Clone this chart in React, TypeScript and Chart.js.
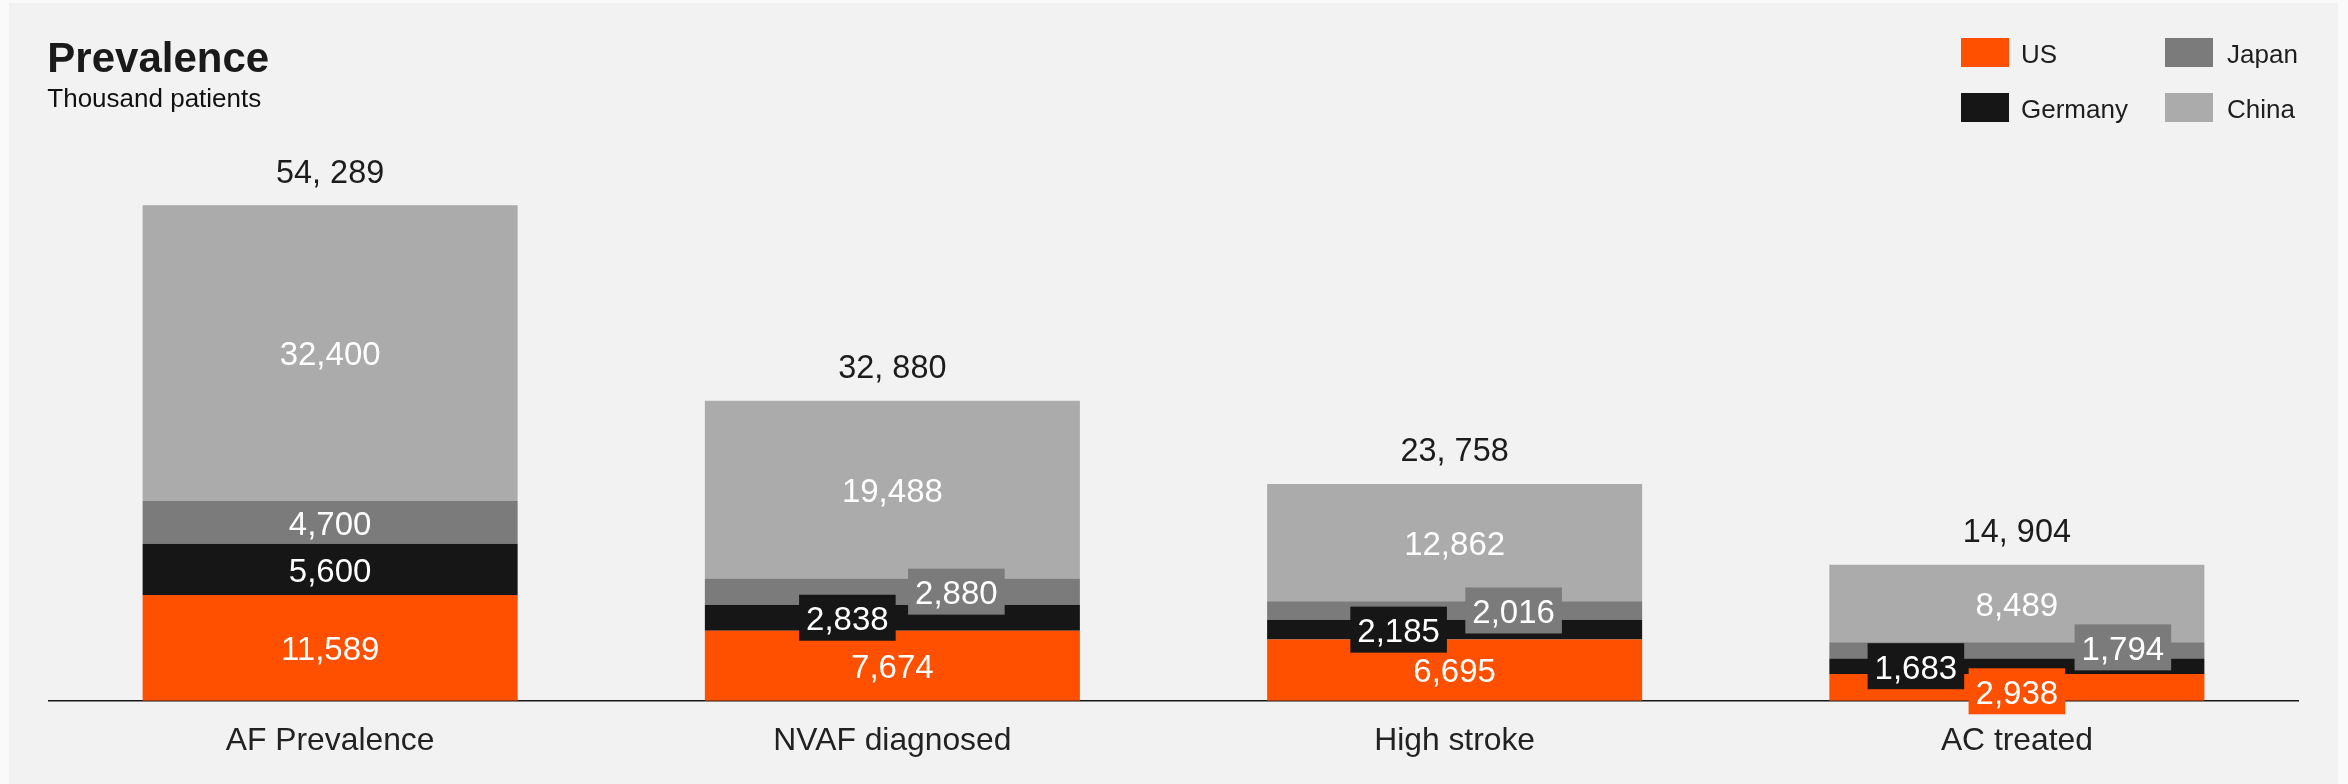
import React, { useEffect, useRef } from "react";
import { Chart, registerables } from "chart.js";

Chart.register(...registerables);

const categories = ["AF Prevalence", "NVAF diagnosed", "High stroke", "AC treated"];
const seriesNames = ["US", "Germany", "Japan", "China"];
const usValues = [11589, 7674, 6695, 2938];
const germanyValues = [5600, 2838, 2185, 1683];
const japanValues = [4700, 2880, 2016, 1794];
const chinaValues = [32400, 19488, 12862, 8489];
const titleText = "Prevalence";
const subtitleText = "Thousand patients";

// styling / layout only
const seriesColors = ["#ff5000", "#161616", "#7b7b7b", "#ababab"];
const labelShiftX = [
  [0, 0, 0, 0],
  [0, -45, -56, -101],
  [0, 64, 59, 106],
  [0, 0, 0, 0],
];
const labelShiftY = [
  [0, 0, 0, 4],
  [0, 0, 0, 0],
  [0, 0, 0, -3],
  [0, 0, 0, 0],
];

const FONT = "'Liberation Sans', Arial, Helvetica, sans-serif";
const W = 2329;
const H = 781;

const fmt = (v: number) => v.toLocaleString("en-US");
const fmtTotal = (v: number) => v.toLocaleString("en-US").replace(/,/g, ", ");

const overlayPlugin = {
  id: "overlay",
  afterDatasetsDraw(chart: any) {
    const ctx = chart.ctx as CanvasRenderingContext2D;
    const xs = chart.scales.x;
    const ys = chart.scales.y;
    const allSeries = [usValues, germanyValues, japanValues, chinaValues];
    ctx.save();

    // value labels
    const vSize = 33;
    ctx.font = `${vSize}px ${FONT}`;
    ctx.textAlign = "center";
    ctx.textBaseline = "alphabetic";
    for (let d = 0; d < allSeries.length; d++) {
      const meta = chart.getDatasetMeta(d);
      meta.data.forEach((el: any, i: number) => {
        const p = el.getProps(["x", "y", "base"], true);
        const sx = labelShiftX[d][i];
        const sy = labelShiftY[d][i];
        const cx = p.x + sx;
        const cy = (p.y + p.base) / 2 + sy;
        const txt = fmt(allSeries[d][i]);
        const tw = ctx.measureText(txt).width;
        if (sx !== 0 || sy !== 0) {
          ctx.fillStyle = seriesColors[d];
          ctx.fillRect(cx - tw / 2 - 7, cy - 23, tw + 14, 46);
        }
        ctx.fillStyle = "#ffffff";
        ctx.fillText(txt, cx, cy + vSize * 0.358 + 0.5);
      });
    }

    // totals
    ctx.font = `32.4px ${FONT}`;
    ctx.fillStyle = "#1c1c1c";
    ctx.textBaseline = "alphabetic";
    categories.forEach((_, i) => {
      const total = allSeries.reduce((s, arr) => s + arr[i], 0);
      const x = xs.getPixelForValue(i);
      const y = ys.getPixelForValue(total);
      ctx.fillText(fmtTotal(total), x, y - 22.6);
    });

    // title & subtitle
    ctx.textAlign = "left";
    ctx.fillStyle = "#1a1a1a";
    ctx.font = `bold 42px ${FONT}`;
    ctx.fillText(titleText, 38.3, 68.7);
    ctx.fillStyle = "#111111";
    ctx.font = `26px ${FONT}`;
    ctx.fillText(subtitleText, 38.3, 104.3);

    // legend (2x2 grid)
    const cols = [1952, 2156];
    const rows = [35, 90];
    ctx.font = `26px ${FONT}`;
    ctx.textBaseline = "alphabetic";
    seriesNames.forEach((name, k) => {
      const col = Math.floor(k / 2);
      const row = k % 2;
      const sx = cols[col];
      const sy = rows[row];
      ctx.fillStyle = seriesColors[k];
      ctx.fillRect(sx, sy, 48, 29);
      ctx.fillStyle = "#1e1e1e";
      ctx.fillText(name, sx + 60 + col * 2, sy + 24.7);
    });

    ctx.restore();
  },
};

export default function App() {
  const ref = useRef<HTMLCanvasElement | null>(null);

  useEffect(() => {
    if (!ref.current) return;
    const series = [usValues, germanyValues, japanValues, chinaValues];
    const chart = new Chart(ref.current, {
      type: "bar",
      data: {
        labels: categories,
        datasets: series.map((vals, d) => ({
          label: seriesNames[d],
          data: vals,
          backgroundColor: seriesColors[d],
          borderWidth: 0,
          barPercentage: 0.667,
          categoryPercentage: 1,
        })),
      },
      options: {
        responsive: false,
        animation: false,
        devicePixelRatio: 1,
        layout: { padding: { top: 59, left: 40, right: 40, bottom: 0 } },
        plugins: {
          legend: { display: false },
          tooltip: { enabled: false },
          title: { display: false },
        },
        scales: {
          x: {
            stacked: true,
            grid: { display: false, drawTicks: false },
            border: { display: true, color: "#161616", width: 1.6 },
            ticks: {
              color: "#222222",
              font: { family: FONT, size: 31.8 },
              padding: 21.5,
              maxRotation: 0,
            },
            afterFit: (s: any) => {
              s.height = 83.3;
            },
          },
          y: {
            stacked: true,
            display: false,
            min: 0,
            max: 70000,
          },
        },
      },
      plugins: [overlayPlugin],
    });
    return () => chart.destroy();
  }, []);

  return (
    <div style={{ position: "fixed", inset: 0, background: "#fafafa", overflow: "hidden" }}>
      <div
        style={{
          position: "absolute",
          left: 9,
          top: 3,
          width: W,
          height: H,
          background: "#f2f2f2",
        }}
      >
        <canvas ref={ref} width={W} height={H} style={{ display: "block", width: W, height: H }} />
      </div>
    </div>
  );
}
